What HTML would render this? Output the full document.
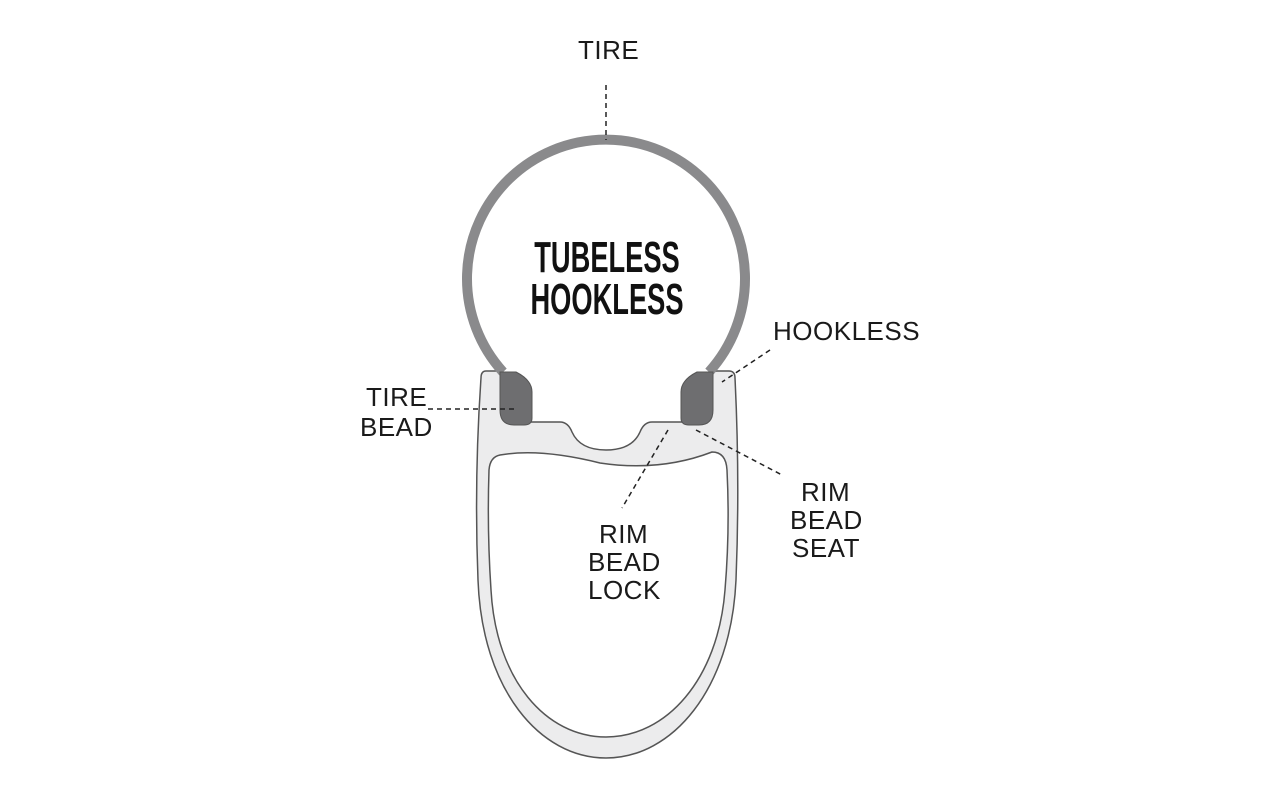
<!DOCTYPE html>
<html><head><meta charset="utf-8"><style>
html,body{margin:0;padding:0;background:#fff;}
svg{display:block;}
.l{font-family:"Liberation Sans",sans-serif;font-size:26px;fill:#1a1a1a;letter-spacing:0.5px;}
.b{font-family:"Liberation Sans",sans-serif;font-weight:bold;font-size:44px;fill:#111;}
</style></head><body>
<svg width="1280" height="800" viewBox="0 0 1280 800">
<path d="M486 371 L497 371 Q501 371 501 376 L501 408 Q501 422 514 422 L560 422 Q568 422 572 432 Q580 450 606 450 Q632 450 640 432 Q644 422 652 422 L700 422 Q712 422 712 408 L712 376 Q712 371 717 371 L729 371 Q735 371 735 378 Q740 480 736 580 C731 690 672 758 606 758 C540 758 482 690 478 580 Q474 480 481 378 Q481 371 486 371 Z" fill="#ececed" stroke="#555" stroke-width="1.5"/>
<path d="M500 455 Q540 448 600 463 Q660 472 712 452 Q726 452 727 470 Q730 530 725 590 C718 680 666 737 606 737 C546 737 496 680 491 590 Q487 530 489 470 Q490 457 500 455 Z" fill="#fff" stroke="#555" stroke-width="1.5"/>
<path d="M503 372 A139 139 0 1 1 709 372" fill="none" stroke="#8a8a8c" stroke-width="10"/>
<path d="M500 372 L516 372 Q532 380 532 392 L532 418 Q532 425 524 425 L514 425 Q500 425 500 410 Z" fill="#6e6e70" stroke="#555" stroke-width="1"/>
<path d="M713 372 L697 372 Q681 380 681 392 L681 418 Q681 425 689 425 L699 425 Q713 425 713 410 Z" fill="#6e6e70" stroke="#555" stroke-width="1"/>
<g stroke="#222" stroke-width="1.5" stroke-dasharray="5,4" fill="none">
<line x1="606" y1="85" x2="606" y2="140"/>
<line x1="428" y1="409" x2="516" y2="409"/>
<line x1="770" y1="350" x2="722" y2="382"/>
<line x1="696" y1="430" x2="782" y2="475"/>
<line x1="668" y1="430" x2="622" y2="508"/>
</g>
<text class="l" x="578" y="59">TIRE</text>
<text class="l" x="366" y="406">TIRE</text>
<text class="l" x="360" y="436">BEAD</text>
<text class="l" x="773" y="340">HOOKLESS</text>
<text class="l" x="801" y="501">RIM</text>
<text class="l" x="790" y="529">BEAD</text>
<text class="l" x="792" y="557">SEAT</text>
<text class="l" x="599" y="543">RIM</text>
<text class="l" x="588" y="571">BEAD</text>
<text class="l" x="588" y="599">LOCK</text>
<g transform="translate(607,0) scale(0.62,1)">
<text class="b" x="0" y="272" text-anchor="middle">TUBELESS</text>
<text class="b" x="0" y="314" text-anchor="middle">HOOKLESS</text>
</g>
</svg>
</body></html>
